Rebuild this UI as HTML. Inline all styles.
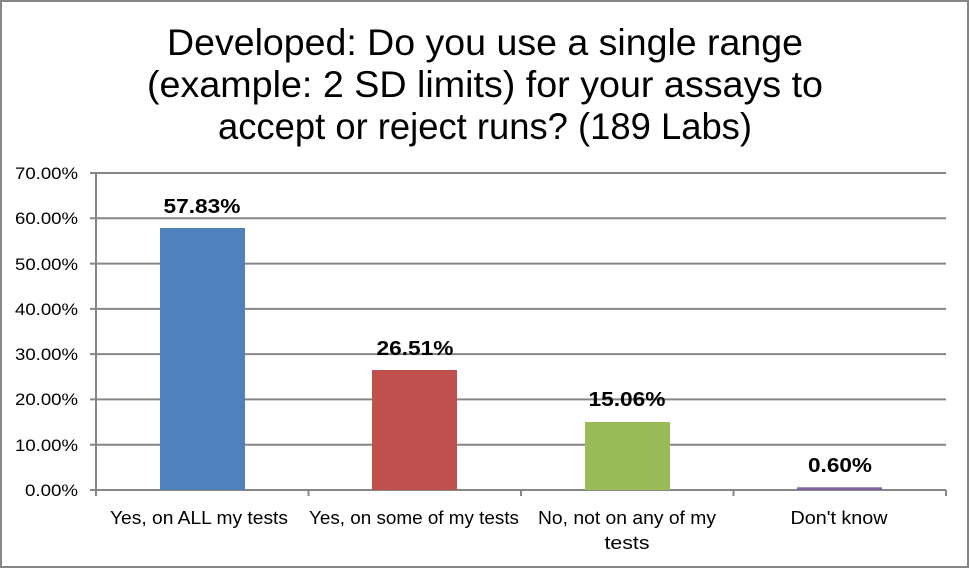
<!DOCTYPE html><html><head><style>body{margin:0;background:#fff}</style></head><body>
<svg width="970" height="569" xmlns="http://www.w3.org/2000/svg" style="display:block;font-family:'Liberation Sans',Arial,sans-serif">
<rect x="1" y="1" width="967" height="566" fill="#fff" stroke="#868686" stroke-width="2"/>
<g font-size="37" text-anchor="middle" fill="#000" lengthAdjust="spacingAndGlyphs">
<text x="485" y="55" textLength="636" lengthAdjust="spacingAndGlyphs">Developed: Do you use a single range</text>
<text x="485" y="97" textLength="676" lengthAdjust="spacingAndGlyphs">(example: 2 SD limits) for your assays to</text>
<text x="485" y="139" textLength="534" lengthAdjust="spacingAndGlyphs">accept or reject runs? (189 Labs)</text></g>
<g stroke="#868686" stroke-width="2">
<line x1="90" y1="173" x2="946" y2="173"/><line x1="90" y1="218.3" x2="946" y2="218.3"/><line x1="90" y1="263.6" x2="946" y2="263.6"/><line x1="90" y1="308.9" x2="946" y2="308.9"/><line x1="90" y1="354.1" x2="946" y2="354.1"/><line x1="90" y1="399.4" x2="946" y2="399.4"/><line x1="90" y1="444.7" x2="946" y2="444.7"/><line x1="90" y1="490" x2="946" y2="490"/>
<line x1="96" y1="173" x2="96" y2="496"/><line x1="308.5" y1="490" x2="308.5" y2="496"/><line x1="521" y1="490" x2="521" y2="496"/><line x1="733.5" y1="490" x2="733.5" y2="496"/><line x1="946" y1="490" x2="946" y2="496"/></g>
<g font-size="17" text-anchor="end">
<text x="78" y="179" textLength="63" lengthAdjust="spacingAndGlyphs">70.00%</text><text x="78" y="224" textLength="63" lengthAdjust="spacingAndGlyphs">60.00%</text><text x="78" y="270" textLength="63" lengthAdjust="spacingAndGlyphs">50.00%</text><text x="78" y="315" textLength="63" lengthAdjust="spacingAndGlyphs">40.00%</text><text x="78" y="360" textLength="63" lengthAdjust="spacingAndGlyphs">30.00%</text><text x="78" y="405" textLength="63" lengthAdjust="spacingAndGlyphs">20.00%</text><text x="78" y="451" textLength="63" lengthAdjust="spacingAndGlyphs">10.00%</text><text x="78" y="496" textLength="53" lengthAdjust="spacingAndGlyphs">0.00%</text></g>
<rect x="160" y="228" width="85" height="262" fill="#4f81bd"/>
<rect x="372" y="370" width="85" height="120" fill="#c0504d"/>
<rect x="585" y="422" width="85" height="68" fill="#9bbb59"/>
<rect x="797" y="487.3" width="85" height="2.7" fill="#8064a2"/>
<g font-size="20" font-weight="bold" text-anchor="middle">
<text x="202" y="213" textLength="77" lengthAdjust="spacingAndGlyphs">57.83%</text><text x="415" y="355" textLength="77" lengthAdjust="spacingAndGlyphs">26.51%</text><text x="627" y="406" textLength="77" lengthAdjust="spacingAndGlyphs">15.06%</text><text x="840" y="472" textLength="64" lengthAdjust="spacingAndGlyphs">0.60%</text></g>
<g font-size="18" text-anchor="middle">
<text x="199" y="524" textLength="178" lengthAdjust="spacingAndGlyphs">Yes, on ALL my tests</text><text x="414" y="524" textLength="210" lengthAdjust="spacingAndGlyphs">Yes, on some of my tests</text><text x="627" y="524" textLength="178" lengthAdjust="spacingAndGlyphs">No, not on any of my</text><text x="627" y="549" textLength="45" lengthAdjust="spacingAndGlyphs">tests</text><text x="839" y="524" textLength="97" lengthAdjust="spacingAndGlyphs">Don't know</text></g>
</svg></body></html>
